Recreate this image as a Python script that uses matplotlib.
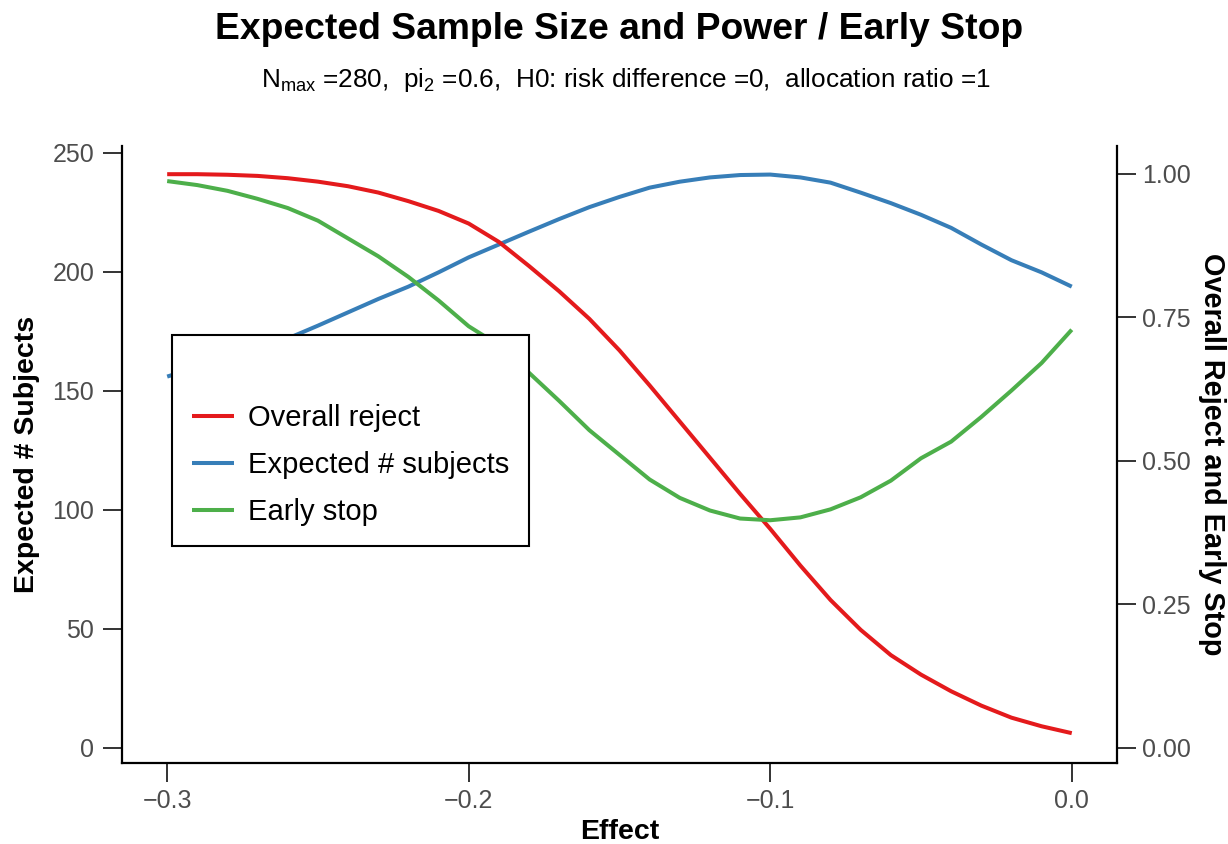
import matplotlib
matplotlib.use("Agg")
import matplotlib.pyplot as plt

plt.rcParams['font.family'] = ['Liberation Sans', 'DejaVu Sans']
plt.rcParams['mathtext.fontset'] = 'custom'
plt.rcParams['mathtext.rm'] = 'Liberation Sans'
plt.rcParams['mathtext.it'] = 'Liberation Sans:italic'
plt.rcParams['mathtext.bf'] = 'Liberation Sans:bold'

# ---- data ----
effect = [-0.30, -0.29, -0.28, -0.27, -0.26, -0.25, -0.24, -0.23, -0.22, -0.21,
          -0.20, -0.19, -0.18, -0.17, -0.16, -0.15, -0.14, -0.13, -0.12, -0.11,
          -0.10, -0.09, -0.08, -0.07, -0.06, -0.05, -0.04, -0.03, -0.02, -0.01, 0.00]
overall_reject = [0.999, 0.999, 0.998, 0.996, 0.992, 0.986, 0.978, 0.967, 0.952, 0.935,
                  0.913, 0.881, 0.839, 0.795, 0.747, 0.692, 0.631, 0.568, 0.505, 0.442,
                  0.381, 0.317, 0.257, 0.205, 0.161, 0.127, 0.098, 0.073, 0.052, 0.037, 0.025]
expected_n = [155.9, 159.8, 163.6, 167.6, 171.9, 177.3, 182.9, 188.5, 193.7, 199.7,
              206.0, 211.4, 216.8, 222.1, 227.1, 231.4, 235.3, 237.8, 239.6, 240.6,
              240.8, 239.6, 237.4, 233.2, 228.8, 223.9, 218.4, 211.4, 204.8, 199.7, 193.7]
early_stop = [0.987, 0.980, 0.970, 0.956, 0.940, 0.918, 0.887, 0.856, 0.820, 0.779,
              0.734, 0.701, 0.653, 0.604, 0.553, 0.510, 0.467, 0.435, 0.413, 0.399,
              0.396, 0.401, 0.415, 0.436, 0.465, 0.504, 0.533, 0.576, 0.622, 0.670, 0.728]

left_ticks = [0, 50, 100, 150, 200, 250]
right_ticks = [0.00, 0.25, 0.50, 0.75, 1.00]
right_tick_labels = ["0.00", "0.25", "0.50", "0.75", "1.00"]
x_ticks = [-0.3, -0.2, -0.1, 0.0]

title = "Expected Sample Size and Power / Early Stop"
subtitle = (r"N$_{\mathregular{max}}$ =280,  pi$_{\mathregular{2}}$ =0.6,  "
            r"H0: risk difference =0,  allocation ratio =1")
labels = ["Overall reject", "Expected # subjects", "Early stop"]

# ---- style ----
c_red, c_blue, c_green = "#E41A1C", "#377EB8", "#4DAF4A"
scale = 241.2
lw = 2.9
tick_col = "#4D4D4D"

fig = plt.figure(figsize=(12.28, 8.44), dpi=100)
ax = fig.add_axes([0.0993, 0.0960, 0.8103, 0.731])
ax2 = ax.twinx()

l_blue, = ax.plot(effect, expected_n, color=c_blue, lw=lw, solid_capstyle='butt')
l_red, = ax2.plot(effect, overall_reject, color=c_red, lw=lw, solid_capstyle='butt')
l_green, = ax2.plot(effect, early_stop, color=c_green, lw=lw, solid_capstyle='butt')

ax.set_xlim(-0.315, 0.015)
ylo, yhi = -6.5, 252.8
ax.set_ylim(ylo, yhi)
ax2.set_ylim(ylo / scale, yhi / scale)

ax.set_xticks(x_ticks)
ax.set_yticks(left_ticks)
ax2.set_yticks(right_ticks)
ax2.set_yticklabels(right_tick_labels)

for a in (ax, ax2):
    a.spines['top'].set_visible(False)
    for s in a.spines.values():
        s.set_linewidth(1.6)
        s.set_color('black')
    a.tick_params(axis='both', length=14, width=1.4, color='#333333',
                  labelcolor=tick_col, labelsize=18, pad=5)
ax.tick_params(axis='y', pad=6)
ax2.tick_params(axis='y', pad=4)
ax.spines['right'].set_visible(False)
ax2.spines['left'].set_visible(False)
ax2.spines['bottom'].set_visible(False)

ax.set_xlabel("Effect", fontsize=20.5, fontweight='bold')
ax.set_ylabel("Expected # Subjects", fontsize=20.5, fontweight='bold')
ax2.set_ylabel("Overall Reject and Early Stop", fontsize=20.8, fontweight='bold',
               rotation=-90)
for lab in (ax.xaxis.label, ax.yaxis.label, ax2.yaxis.label):
    lab.set_verticalalignment('center')
    lab.set_horizontalalignment('center')
    lab.set_rotation_mode('anchor')
ax.xaxis.set_label_coords(0.5, -0.112)
ax.yaxis.set_label_coords(-0.0955, 0.5)
ax2.yaxis.set_label_coords(1.095, 0.5)

fig.text(0.5045, 0.9645, title, ha='center', va='center', fontsize=26.8, fontweight='bold')
fig.text(0.5095, 0.905, subtitle, ha='center', va='center', fontsize=18.8)

leg = ax2.legend([l_red, l_blue, l_green], labels, loc='upper left',
                 bbox_to_anchor=(0.0503, 0.694), fontsize=21, title=" ",
                 title_fontsize=23, frameon=True, fancybox=False, framealpha=1,
                 edgecolor='black', handlelength=1.43, handletextpad=0.5,
                 labelspacing=0.66, borderpad=0.68, borderaxespad=0)
leg.get_frame().set_linewidth(1.5)

fig.savefig("out.png", dpi=100)
